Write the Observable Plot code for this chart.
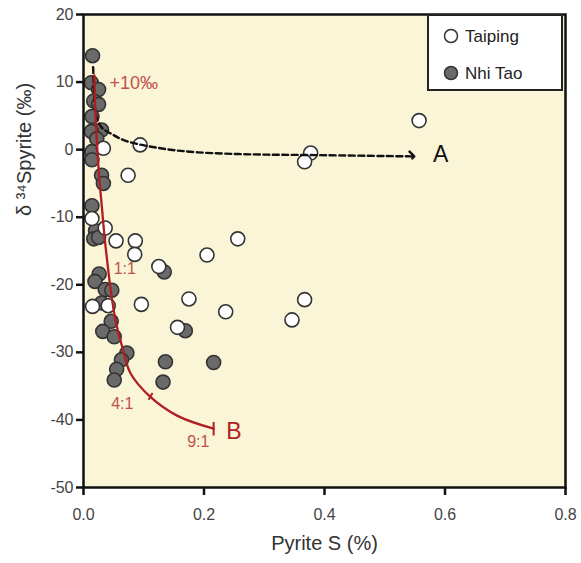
<!DOCTYPE html>
<html><head><meta charset="utf-8">
<script src="https://cdn.jsdelivr.net/npm/d3@7"></script>
<script src="https://cdn.jsdelivr.net/npm/@observablehq/plot@0.6"></script>
<style>
body{margin:0;background:#fff;font-family:"Liberation Sans",Arial,sans-serif}
#wrap{position:relative;width:581px;height:563px}
#legend{position:absolute;left:427px;top:14px;width:136px;height:77px;background:#fff;border:2px solid #222;box-sizing:border-box;}
</style></head><body><div id="wrap"></div>
<script>
const taipingX = [0.033,0.094,0.074,0.014,0.036,0.054,0.086,0.085,0.256,0.205,0.125,0.015,0.041,0.096,0.175,0.236,0.156,0.557,0.377,0.367,0.367,0.346];
const taipingY = [0.2,0.7,-3.8,-10.2,-11.6,-13.5,-13.5,-15.5,-13.2,-15.6,-17.3,-23.2,-23.1,-22.9,-22.1,-24.0,-26.3,4.3,-0.5,-1.8,-22.2,-25.2];
const nhiTaoX = [0.015,0.013,0.025,0.017,0.025,0.014,0.030,0.013,0.022,0.014,0.014,0.030,0.033,0.014,0.020,0.017,0.025,0.026,0.019,0.036,0.047,0.030,0.046,0.032,0.051,0.072,0.063,0.055,0.051,0.134,0.169,0.136,0.216,0.132];
const nhiTaoY = [13.9,9.9,8.9,7.2,6.7,4.9,2.9,2.7,1.6,-0.3,-1.5,-3.8,-5.0,-8.3,-12.0,-13.2,-13.0,-18.4,-19.5,-20.7,-20.8,-22.7,-25.4,-26.9,-27.7,-30.1,-31.1,-32.5,-34.1,-18.1,-26.8,-31.4,-31.5,-34.4];
const curveAX = [0.016,0.018,0.021,0.030,0.047,0.070,0.128,0.190,0.280,0.377,0.545];
const curveAY = [12.2,8,5,3.3,2.3,1.3,0.2,-0.4,-0.7,-0.8,-1.0];
const curveBX = [0.018,0.020,0.023,0.026,0.030,0.035,0.039,0.045,0.053,0.064,0.078,0.111,0.156,0.216];
const curveBY = [11,5,0,-4,-8,-13,-16.2,-20.7,-25.2,-29.1,-33.1,-36.6,-39.4,-41.3];
const xTicks = [0,0.2,0.4,0.6,0.8];
const yTicks = [-50,-40,-30,-20,-10,0,10,20];
const ratioLabels = ["+10‰","1:1","4:1","9:1"];
const ratioX = [0.043,0.050,0.046,0.172];
const ratioY = [9.9,-17.7,-37.6,-43.3];
const tickSegX1 = [0.108,0.216], tickSegY1 = [-37.0,-40.3], tickSegX2 = [0.1145,0.216], tickSegY2 = [-36.0,-42.3];
const endLabels = ["A","B"], endX = [0.58,0.237], endY = [-0.8,-41.8];

const taiping = taipingX.map((x,i)=>({x,y:taipingY[i]}));
const nhiTao = nhiTaoX.map((x,i)=>({x,y:nhiTaoY[i]}));
const curveA = curveAX.map((x,i)=>({x,y:curveAY[i]}));
const curveB = curveBX.map((x,i)=>({x,y:curveBY[i]}));
const ratios = ratioLabels.map((t,i)=>({t,x:ratioX[i],y:ratioY[i]}));
const segs = tickSegX1.map((x1,i)=>({x1,y1:tickSegY1[i],x2:tickSegX2[i],y2:tickSegY2[i]}));
const ends = endLabels.map((t,i)=>({t,x:endX[i],y:endY[i]}));

const RED = "#b01e23";
const chart = Plot.plot({
  width: 581, height: 563,
  marginLeft: 83, marginRight: 16, marginTop: 14, marginBottom: 76,
  style: {fontFamily: '"Liberation Sans", Arial, sans-serif', background: "#fff"},
  x: {domain: [0, 0.8], ticks: xTicks},
  y: {domain: [-50, 20], ticks: yTicks},
  marks: [
    Plot.frame({fill: "#faf5d6"}),
    Plot.axisX({ticks: xTicks, tickFormat: d3.format(".1f"), tickSize: 8, tickPadding: 13, fontSize: 16, color: "#444", stroke: "#111", strokeWidth: 2.5, label: null}),
    Plot.axisY({ticks: yTicks, tickFormat: d => String(d), tickSize: 7, tickPadding: 3, fontSize: 16, color: "#444", stroke: "#111", strokeWidth: 2.5, label: null}),
    Plot.dot(nhiTao, {x: "x", y: "y", r: 7, fill: "#6a6a6a", stroke: "#333", strokeWidth: 1.6}),
    Plot.dot(taiping, {x: "x", y: "y", r: 7, fill: "#fff", stroke: "#333", strokeWidth: 1.6}),
    Plot.line(curveA, {x: "x", y: "y", curve: "catmull-rom", stroke: "#111", strokeWidth: 2.4, strokeDasharray: "6,3.5", markerEnd: "arrow"}),
    Plot.line(curveB, {x: "x", y: "y", curve: "catmull-rom", stroke: RED, strokeWidth: 2.3}),
    Plot.link(segs, {x1: "x1", y1: "y1", x2: "x2", y2: "y2", stroke: RED, strokeWidth: 2}),
    Plot.text(ratios, {x: "x", y: "y", text: "t", textAnchor: "start", fill: "#c0504d", fontSize: d => d.t === "+10‰" ? 18 : 16}),
    Plot.text(ends, {x: "x", y: "y", text: "t", textAnchor: "start", fill: d => d.t === "B" ? RED : "#111", fontSize: 23}),
    Plot.text(["Pyrite S (%)"], {frameAnchor: "bottom", dy: 62, fontSize: 20, fill: "#333"}),
    Plot.text(["δ ³⁴Spyrite (‰)"], {frameAnchor: "left", rotate: -90, dx: -59, dy: -35, fontSize: 20, fill: "#333"}),
    Plot.frame({stroke: "#111", strokeWidth: 2.5})
  ]
});
const wrap = document.getElementById("wrap");
wrap.appendChild(chart);
const leg = document.createElement("div");
leg.id = "legend";
leg.innerHTML = `<svg width="132" height="73" style="display:block">
<circle cx="22" cy="20" r="6.5" fill="#fff" stroke="#333" stroke-width="1.5"/>
<text x="36" y="26" font-size="17" fill="#222" font-family="Liberation Sans, Arial, sans-serif">Taiping</text>
<circle cx="22" cy="57" r="6.5" fill="#6a6a6a" stroke="#333" stroke-width="1.5"/>
<text x="36" y="63" font-size="17" fill="#222" font-family="Liberation Sans, Arial, sans-serif">Nhi Tao</text>
</svg>`;
wrap.appendChild(leg);
</script>
</body></html>
